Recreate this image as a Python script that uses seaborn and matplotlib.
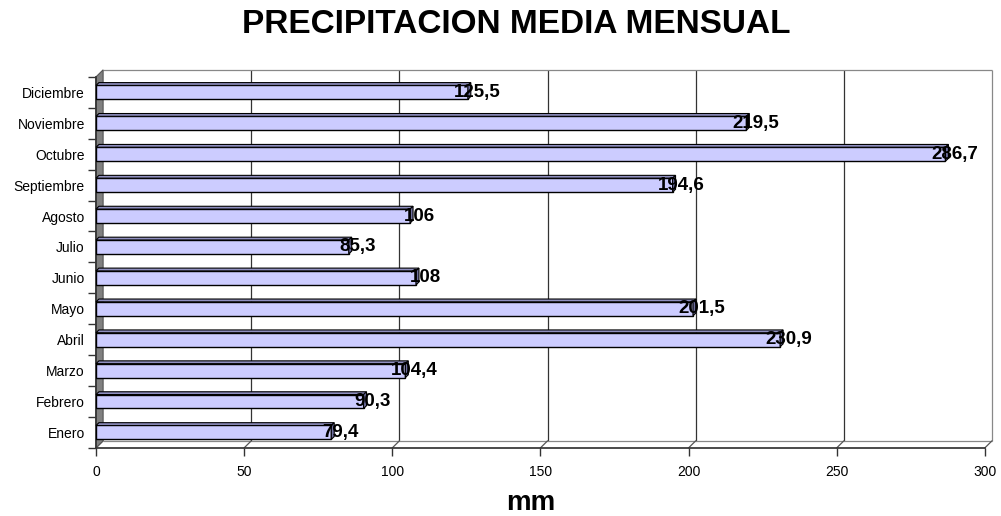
import matplotlib
matplotlib.use("Agg")
import matplotlib.pyplot as plt
from matplotlib.patches import Polygon
import pandas as pd
import seaborn as sns

# Data (top to bottom)
months = ["Diciembre", "Noviembre", "Octubre", "Septiembre", "Agosto", "Julio",
          "Junio", "Mayo", "Abril", "Marzo", "Febrero", "Enero"]
precip = [125.5, 219.5, 286.7, 194.6, 106, 85.3, 108, 201.5, 230.9, 104.4, 90.3, 79.4]
labels = ["125,5", "219,5", "286,7", "194,6", "106", "85,3", "108", "201,5",
          "230,9", "104,4", "90,3", "79,4"]
xticks = [0, 50, 100, 150, 200, 250, 300]

df = pd.DataFrame({"mes": months, "mm": precip})

sns.set_theme(style="white")
plt.rcParams["font.family"] = ["Liberation Sans", "DejaVu Sans"]
plt.rcParams["text.color"] = "black"
plt.rcParams["axes.labelcolor"] = "black"
plt.rcParams["xtick.labelcolor"] = "black"
plt.rcParams["ytick.labelcolor"] = "black"

fig = plt.figure(figsize=(10.01, 5.16), dpi=100)
ax = fig.add_axes([0.0959, 0.132, 0.888, 0.719])

sns.barplot(data=df, x="mm", y="mes", order=months, orient="h", color="#CCCCFF",
            saturation=1, edgecolor="black", linewidth=1.0, width=0.45, ax=ax, zorder=3)

ax.set_xlim(0, 300)
ax.set_ylim(11.5, -0.5)

# 3D wall offsets (x in data units, y in axes fraction)
DX, DY = 2.4, 0.019
xtr = ax.get_xaxis_transform()

# back wall gridlines and frame
ax.vlines([v + DX for v in xticks[1:-1]], DY, 1 + DY, transform=xtr,
          color="#333333", lw=0.9, clip_on=False, zorder=1)
ax.vlines([300 + DX], DY, 1 + DY, transform=xtr, color="#888888", lw=0.9, clip_on=False, zorder=1)
ax.hlines([1 + DY], DX, 300 + DX, transform=xtr, color="#888888", lw=0.9, clip_on=False, zorder=1)
ax.hlines([DY], DX, 300 + DX, transform=xtr, color="#888888", lw=0.9, clip_on=False, zorder=1)
for v in xticks:
    ax.plot([v, v + DX], [0, DY], transform=xtr, color="#555555", lw=0.9, clip_on=False, zorder=1)

# grey left wall
wall = Polygon([(0, 0), (DX, DY), (DX, 1 + DY), (0, 1)], closed=True, transform=xtr,
               facecolor="#808080", edgecolor="#555555", lw=0.8, clip_on=False, zorder=2)
ax.add_patch(wall)

# bar top/end faces for 3D look
ddx, ddy = 1.0, 0.09
for p in list(ax.patches):
    if p is wall:
        continue
    x0, x1 = p.get_x(), p.get_x() + p.get_width()
    yt, yb = p.get_y(), p.get_y() + p.get_height()
    ax.add_patch(Polygon([(x0, yt), (x1, yt), (x1 + ddx, yt - ddy), (x0 + ddx, yt - ddy)],
                         closed=True, facecolor="#8F8FC0", edgecolor="black", lw=0.8,
                         zorder=3, clip_on=False))
    ax.add_patch(Polygon([(x1, yt), (x1 + ddx, yt - ddy), (x1 + ddx, yb - ddy), (x1, yb)],
                         closed=True, facecolor="#6F6F9F", edgecolor="black", lw=0.8,
                         zorder=3, clip_on=False))

# value labels
for i, (v, lab) in enumerate(zip(precip, labels)):
    ax.annotate(lab, xy=(v, i), xytext=(6.5, 0), textcoords="offset points",
                ha="center", va="center", fontsize=13.5, fontweight="bold",
                color="black", zorder=5)

for s in ["top", "right"]:
    ax.spines[s].set_visible(False)
ax.spines["left"].set_color("#333333")
ax.spines["bottom"].set_color("#333333")
ax.set_xticks(xticks)
ax.set_yticks(range(len(months)), months)
ax.set_yticks([i + 0.5 for i in range(-1, len(months))], minor=True)
ax.tick_params(axis="y", which="major", length=0, labelsize=10, pad=8)
ax.tick_params(axis="y", which="minor", length=6, width=1, color="#333333", left=True)
ax.tick_params(axis="x", length=6, width=1, color="#333333", bottom=True, labelsize=10, pad=6)
ax.set_ylabel("")
ax.set_xlabel("")
ax.grid(False)

fig.text(0.53, 0.012, "mm", ha="center", va="baseline", fontsize=20, fontweight="bold")
fig.text(0.516, 0.936, "PRECIPITACION MEDIA MENSUAL", ha="center", va="baseline",
         fontsize=24, fontweight="bold")

fig.savefig("out.png", dpi=100)
